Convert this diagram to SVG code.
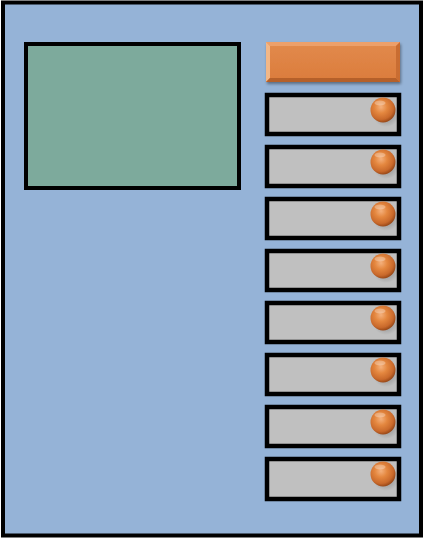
<svg xmlns="http://www.w3.org/2000/svg" width="424" height="538" viewBox="0 0 424 538">
<defs>
<radialGradient id="ball" cx="0.42" cy="0.38" r="0.62">
<stop offset="0" stop-color="#F4B07C"/>
<stop offset="0.4" stop-color="#E4873F"/>
<stop offset="0.8" stop-color="#C9692B"/>
<stop offset="1" stop-color="#9A4918"/>
</radialGradient>
<radialGradient id="shadow" cx="0.5" cy="0.5" r="0.5">
<stop offset="0" stop-color="#000" stop-opacity="0.3"/>
<stop offset="1" stop-color="#000" stop-opacity="0"/>
</radialGradient>
<linearGradient id="barFace" x1="0" y1="0" x2="0" y2="1">
<stop offset="0" stop-color="#E28A4C"/>
<stop offset="1" stop-color="#DB7C3C"/>
</linearGradient>
<filter id="ds" x="-10%" y="-20%" width="130%" height="150%">
<feGaussianBlur in="SourceAlpha" stdDeviation="1.5"/>
<feOffset dx="1" dy="2" result="b"/>
<feComponentTransfer><feFuncA type="linear" slope="0.4"/></feComponentTransfer>
<feMerge><feMergeNode/><feMergeNode in="SourceGraphic"/></feMerge>
</filter>
<g id="sphere">
<ellipse cx="3" cy="5" rx="13" ry="12" fill="url(#shadow)"/>
<circle cx="0" cy="0" r="12.5" fill="url(#ball)"/>
<ellipse cx="-3" cy="-7" rx="5.5" ry="2.5" fill="#fff" opacity="0.3"/>
</g>
</defs>
<style>
.box{fill:#C0C0C0;stroke:#000;stroke-width:4.5}
</style>
<g id="frame">
<rect x="3" y="2.5" width="418" height="533" fill="#95B3D7" stroke="#000" stroke-width="4"/>
</g>
<g id="screen">
<rect x="26" y="44" width="213" height="144" fill="#7DAA9C" stroke="#000" stroke-width="4"/>
</g>
<g id="header" filter="url(#ds)">
<rect x="266" y="42" width="134" height="40" fill="url(#barFace)"/>
<polygon points="266,42 400,42 396,46 270,46" fill="#EDA06A"/>
<polygon points="266,42 270,46 270,78 266,82" fill="#F2B787"/>
<polygon points="266,82 270,78 396,78 400,82" fill="#B5612C"/>
<polygon points="400,42 396,46 396,78 400,82" fill="#C96D33"/>
</g>
<g id="item1"><rect class="box" x="267" y="95" width="132" height="39"/><use href="#sphere" x="383" y="110"/></g>
<g id="item2"><rect class="box" x="267" y="147" width="132" height="39"/><use href="#sphere" x="383" y="162"/></g>
<g id="item3"><rect class="box" x="267" y="199" width="132" height="39"/><use href="#sphere" x="383" y="214"/></g>
<g id="item4"><rect class="box" x="267" y="251" width="132" height="39"/><use href="#sphere" x="383" y="266"/></g>
<g id="item5"><rect class="box" x="267" y="303" width="132" height="39"/><use href="#sphere" x="383" y="318"/></g>
<g id="item6"><rect class="box" x="267" y="355" width="132" height="39"/><use href="#sphere" x="383" y="370"/></g>
<g id="item7"><rect class="box" x="267" y="407" width="132" height="39"/><use href="#sphere" x="383" y="422"/></g>
<g id="item8"><rect class="box" x="267" y="459" width="132" height="40"/><use href="#sphere" x="383" y="474"/></g>
<g id="connectors"/>
</svg>
